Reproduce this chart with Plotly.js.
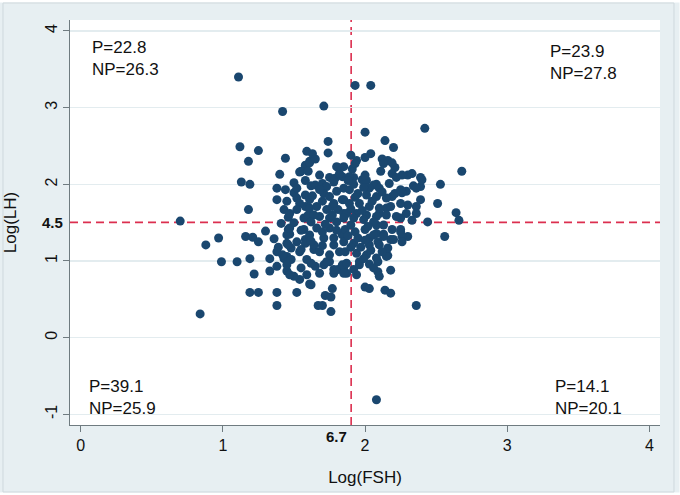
<!DOCTYPE html>
<html>
<head>
<meta charset="utf-8">
<script src="https://cdn.plot.ly/plotly-3.0.1.min.js"></script>
<style>
  html, body { margin: 0; padding: 0; background: #ffffff; }
  #chart { width: 680px; height: 495px; }
</style>
</head>
<body>
<div id="chart"></div>
<script>
// Log(FSH) values of each subject
const fsh = [
  1.11,1.42,1.71,1.93,2.04,2.42,2.00,1.12,1.25,1.18,
  1.44,1.59,1.61,1.74,1.74,1.54,1.58,1.40,1.13,1.19,
  2.14,2.20,1.90,2.04,2.00,1.94,2.12,2.16,2.68,2.11,
  2.21,2.19,2.30,2.39,2.22,2.33,1.81,1.85,1.91,1.75,
  1.84,1.92,1.98,2.01,2.53,2.17,2.08,2.34,2.39,2.51,
  2.64,2.66,2.44,2.56,2.33,2.36,2.39,2.29,2.26,2.40,
  2.19,2.29,2.25,2.19,2.25,2.30,2.08,2.03,2.36,2.08,
  2.00,2.03,2.14,2.18,2.18,2.09,2.16,2.09,1.92,1.87,
  2.03,1.96,0.84,0.99,1.10,1.19,1.22,1.19,1.25,1.38,
  1.52,1.38,1.70,1.76,1.72,1.76,1.77,1.61,1.54,1.50,
  1.45,1.33,1.38,1.33,1.45,1.55,1.65,1.62,1.71,1.78,
  1.75,1.81,0.70,0.97,0.88,1.16,1.21,1.30,1.36,1.46,
  1.47,1.38,1.44,1.50,1.38,1.43,1.18,1.46,1.57,1.62,
  1.65,1.52,1.58,1.61,1.60,1.47,1.25,1.39,1.38,1.45,
  1.47,1.45,1.48,1.52,1.54,1.58,1.58,1.64,1.57,1.59,
  1.43,1.48,1.67,2.36,2.30,2.36,2.19,2.15,2.10,2.08,
  2.13,2.18,2.09,2.26,2.15,1.85,1.78,1.62,
  1.58,1.61,1.55,1.60,1.79,1.82,1.70,1.73,1.58,1.61,
  1.71,1.75,1.80,1.84,1.54,1.52,1.66,1.70,1.73,1.77,
  1.81,1.85,1.68,1.64,1.75,
  1.93,2.13,2.26,1.89,2.00,2.06,2.10,2.03,1.85,1.89,
  1.95,2.01,2.08,2.15,2.21,2.25,1.85,1.89,1.96,2.03,
  2.10,2.18,1.87,1.94,2.01,2.08,2.15,2.22,2.25,1.85,
  1.41,1.46,1.55,1.62,1.66,1.61,1.64,1.68,1.71,1.75,
  1.80,1.84,1.78,1.82,1.73,1.45,1.47,1.59,1.68,1.84,
  1.42,
  1.92,1.99,2.06,2.13,2.25,1.86,1.93,2.00,2.06,2.13,
  2.20,2.26,1.85,1.92,2.03,2.10,2.16,1.86,1.94,2.01,
  2.08,1.96,1.87,2.06,1.85,2.10,1.94,
  1.78,1.90,1.98,1.93,2.05,1.72,1.80,1.90,2.02,1.95,
  1.88,1.78,1.70,2.00,1.97,2.12,1.63,1.68,1.78,1.92,
  1.99,2.12,1.58,1.50,1.52,1.45,1.50,1.55,1.63,1.65,
  1.80,1.68,1.88,1.77,1.70,1.62,1.75,1.90,2.04,1.99
];
// Log(LH) values of each subject
const lh = [
  3.40,2.95,3.02,3.29,3.29,2.73,2.68,2.49,2.44,2.30,
  2.34,2.43,2.30,2.56,2.41,2.16,2.21,2.13,2.03,2.00,
  2.57,2.48,2.38,2.40,2.35,2.31,2.33,2.31,2.17,2.17,
  2.22,2.14,2.12,2.09,2.09,2.14,2.22,2.23,2.20,2.09,
  2.10,2.09,2.06,2.05,2.00,2.01,2.00,1.98,1.97,1.75,
  1.63,1.53,1.51,1.32,1.53,1.62,1.80,1.91,1.89,2.06,
  2.28,1.62,1.56,1.41,1.38,1.32,1.36,1.30,0.42,-0.81,
  0.66,0.64,0.62,0.58,0.88,0.86,1.07,0.99,0.89,0.84,
  0.96,0.99,0.31,0.99,0.99,1.03,0.83,0.59,0.59,0.59,
  0.59,0.42,0.42,0.34,0.55,0.53,0.64,0.70,0.76,0.80,
  0.87,0.87,0.93,1.03,1.06,0.91,0.93,0.97,0.95,0.84,
  0.99,0.89,1.52,1.30,1.21,1.32,1.31,1.39,1.29,1.41,
  1.35,1.95,1.93,1.89,1.80,1.67,1.67,1.57,1.56,1.98,
  1.99,1.82,1.71,1.69,1.60,1.62,1.25,1.18,1.12,1.34,
  1.43,1.23,1.17,1.25,1.12,1.28,1.23,1.15,1.41,1.02,
  1.03,1.02,0.42,1.71,1.73,1.95,1.84,1.69,1.62,1.47,
  1.35,1.28,1.25,1.32,1.06,0.92,0.89,0.69,
  2.25,2.28,2.17,2.17,2.08,2.14,2.01,1.97,1.86,1.80,
  1.88,1.84,1.91,1.80,1.75,1.67,1.71,1.78,1.67,1.71,
  1.67,1.62,1.58,1.60,1.56,
  2.27,2.27,2.12,2.10,2.12,1.99,1.95,1.95,1.95,1.93,
  1.88,1.86,1.84,1.82,1.88,1.93,1.80,1.75,1.75,1.71,
  1.69,1.71,1.62,1.62,1.60,1.58,1.60,1.58,1.75,1.56,
  1.49,1.21,1.15,1.51,1.43,1.34,1.21,1.12,1.30,1.43,
  1.51,1.34,1.21,1.12,0.99,0.95,0.82,0.82,0.84,0.95,
  1.08,
  1.56,1.54,1.51,1.47,1.41,1.41,1.38,1.41,1.34,1.32,
  1.28,1.25,1.25,1.23,1.21,1.21,1.17,1.12,1.10,1.08,
  1.04,0.95,0.97,0.91,0.84,0.80,0.82,
  1.75,1.68,1.66,1.83,1.78,1.48,1.40,1.47,1.45,1.30,
  1.33,1.30,1.20,1.27,1.18,1.12,1.85,1.93,2.03,2.00,
  1.96,1.90,2.05,2.02,1.95,1.78,1.50,1.40,2.40,2.33,
  2.23,2.12,2.05,1.60,1.38,1.26,1.08,1.18,1.14,1.03
];

// Cut-offs (log scale) and their raw-value labels
const fshCut = Math.log(6.7);
const lhCut = Math.log(4.5);
const fshCutLabel = '6.7';
const lhCutLabel = '4.5';

// Axis ticks
const xTicks = [0, 1, 2, 3, 4];
const yTicks = [-1, 0, 1, 2, 3, 4];

// Quadrant percentages: upper-left, upper-right, lower-left, lower-right
const quadP  = ['22.8', '23.9', '39.1', '14.1'];
const quadNP = ['26.3', '27.8', '25.9', '20.1'];

const FONT = 'Liberation Sans, Arial, Helvetica, sans-serif';
const NAVY = '#1a476f';
const RED = '#dc2f4f';

const trace = {
  x: fsh, y: lh, type: 'scatter', mode: 'markers',
  marker: { color: NAVY, size: 9, line: { width: 0 } },
  hoverinfo: 'x+y', showlegend: false
};

const quadPos = [
  { x: 0.034, y: 0.905 },
  { x: 0.810, y: 0.894 },
  { x: 0.029, y: 0.069 },
  { x: 0.819, y: 0.067 }
];

const annotations = quadP.map((p, i) => ({
  xref: 'paper', yref: 'paper', x: quadPos[i].x, y: quadPos[i].y,
  xanchor: 'left', yanchor: 'middle', align: 'left', showarrow: false,
  text: 'P=' + p + '<br>NP=' + quadNP[i],
  font: { family: FONT, size: 17, color: '#111' }
}));
annotations.push({
  xref: 'paper', yref: 'y', x: 0, y: lhCut, xanchor: 'right', yanchor: 'middle',
  xshift: -5, showarrow: false, text: '<b>' + lhCutLabel + '</b>',
  font: { family: FONT, size: 15, color: '#111' }
});
annotations.push({
  xref: 'x', yref: 'paper', x: fshCut, y: 0, xanchor: 'right', yanchor: 'top',
  xshift: -2, yshift: -1, showarrow: false, text: '<b>' + fshCutLabel + '</b>',
  font: { family: FONT, size: 15, color: '#111' }
});

// plot area spans 590 x 405 px; frame decorations are given in paper fractions
const shapes = [
  { type: 'rect', xref: 'paper', yref: 'paper', layer: 'below',
    x0: -0.1271, x1: 1.0390, y0: -0.1753, y1: 1.0519,
    fillcolor: 'rgba(0,0,0,0)', line: { color: '#ffffff', width: 7 } },
  { type: 'rect', xref: 'paper', yref: 'paper', layer: 'below',
    x0: -0.1136, x1: 1.0237, y0: -0.1654, y1: 1.0420,
    fillcolor: 'rgba(0,0,0,0)', line: { color: '#cfd9dd', width: 1 } },
  { type: 'line', xref: 'x', yref: 'paper', layer: 'below',
    x0: fshCut, x1: fshCut, y0: 0, y1: 1,
    line: { color: RED, width: 1.6, dash: '8px,5px' } },
  { type: 'line', xref: 'paper', yref: 'y', layer: 'below',
    x0: 0, x1: 1, y0: lhCut, y1: lhCut,
    line: { color: RED, width: 1.6, dash: '8px,5px' } }
];

const layout = {
  width: 680, height: 495,
  margin: { l: 70, r: 20, t: 20, b: 70, pad: 0 },
  paper_bgcolor: '#e7eff2', plot_bgcolor: '#ffffff',
  font: { family: FONT, size: 16, color: '#111' },
  showlegend: false,
  xaxis: {
    range: [-0.075, 4.074], tickvals: xTicks, ticktext: xTicks.map(String),
    ticks: 'outside', ticklen: 6, tickwidth: 1, tickcolor: '#6f7b80',
    showline: true, linecolor: '#6f7b80', linewidth: 1, mirror: false,
    showgrid: false, zeroline: false, automargin: false,
    tickfont: { family: FONT, size: 16, color: '#111' },
    title: { text: 'Log(FSH)', font: { family: FONT, size: 17, color: '#111' }, standoff: 17 }
  },
  yaxis: {
    range: [-1.139, 4.143], tickvals: yTicks, ticktext: yTicks.map(String),
    tickangle: -90,
    ticks: 'outside', ticklen: 6, tickwidth: 1, tickcolor: '#6f7b80',
    showline: true, linecolor: '#6f7b80', linewidth: 1, mirror: false,
    showgrid: true, gridcolor: '#e3ecef', gridwidth: 1.2,
    zeroline: false, automargin: false,
    tickfont: { family: FONT, size: 16, color: '#111' },
    title: { text: 'Log(LH)', font: { family: FONT, size: 17, color: '#111' }, standoff: 21 }
  },
  shapes: shapes,
  annotations: annotations
};

Plotly.newPlot('chart', [trace], layout, { displayModeBar: false, staticPlot: true });
</script>
</body>
</html>
